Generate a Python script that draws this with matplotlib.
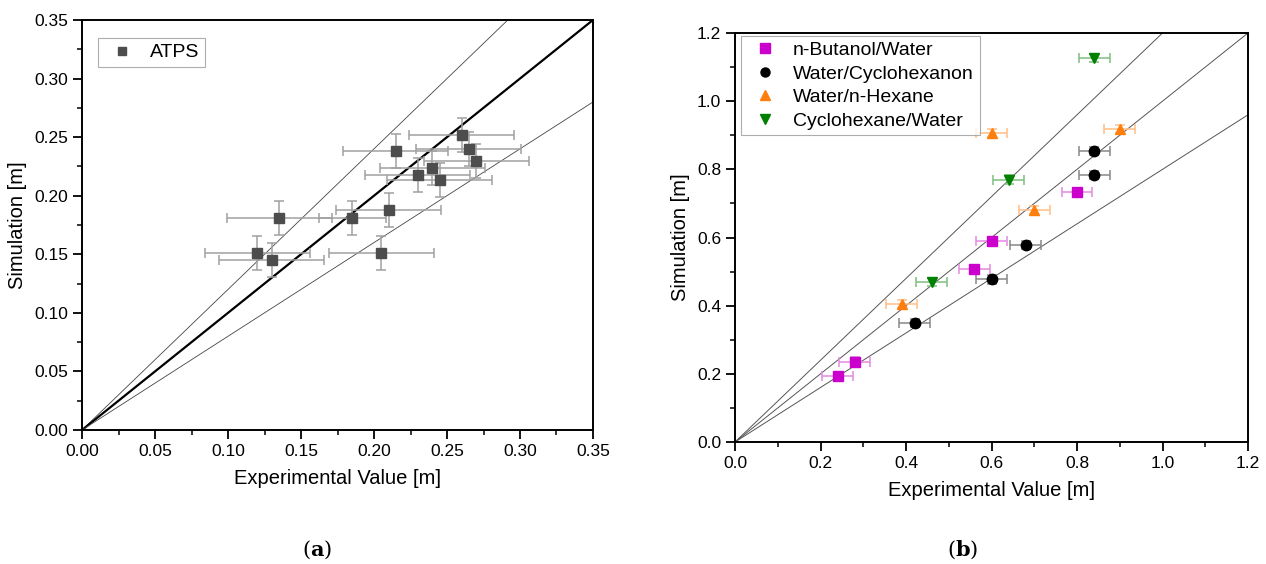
import numpy as np
import matplotlib as mpl
mpl.use('Agg')
import matplotlib.pyplot as plt
from matplotlib.lines import Line2D
from matplotlib.ticker import MultipleLocator, FormatStrFormatter

plt.rcParams['font.family'] = ['Liberation Sans', 'DejaVu Sans']
plt.rcParams['mathtext.fontset'] = 'dejavuserif'

# (a) ATPS: experimental vs simulated
atps_exp = [0.12, 0.13, 0.135, 0.185, 0.21, 0.205, 0.215, 0.23, 0.24, 0.245, 0.26, 0.265, 0.27]
atps_sim = [0.151, 0.145, 0.181, 0.181, 0.188, 0.151, 0.238, 0.218, 0.224, 0.213, 0.252, 0.240, 0.230]
atps_xerr = [0.036, 0.036, 0.036, 0.023, 0.036, 0.036, 0.036, 0.036, 0.036, 0.036, 0.036, 0.036, 0.036]
atps_yerr = [0.0145] * 13

# (b) two-phase systems
butanol_exp = [0.24, 0.28, 0.56, 0.60, 0.80]
butanol_sim = [0.194, 0.236, 0.508, 0.590, 0.733]
cyclohexanon_exp = [0.42, 0.60, 0.68, 0.84, 0.84]
cyclohexanon_sim = [0.349, 0.477, 0.579, 0.784, 0.854]
hexane_exp = [0.39, 0.60, 0.70, 0.90]
hexane_sim = [0.405, 0.906, 0.681, 0.919]
cyclohexane_exp = [0.46, 0.64, 0.84]
cyclohexane_sim = [0.470, 0.770, 1.126]
b_xerr = 0.036
b_yerr = 0.012

slopes = [1.2, 1.0, 0.8]

fig = plt.figure(figsize=(12.66, 5.64), dpi=100)
ax1 = fig.add_axes([0.0648, 0.2376, 0.4036, 0.727])
ax2 = fig.add_axes([0.5806, 0.2163, 0.4052, 0.7252])


def style_axes(ax, lim, major, minor, fmt):
    ax.set_xlim(0, lim)
    ax.set_ylim(0, lim)
    ax.xaxis.set_major_locator(MultipleLocator(major))
    ax.xaxis.set_minor_locator(MultipleLocator(minor))
    ax.yaxis.set_major_locator(MultipleLocator(major))
    ax.yaxis.set_minor_locator(MultipleLocator(minor))
    ax.xaxis.set_major_formatter(FormatStrFormatter(fmt))
    ax.yaxis.set_major_formatter(FormatStrFormatter(fmt))
    ax.tick_params(which='major', direction='out', length=6.5, width=1.3, labelsize=12.5)
    ax.tick_params(which='minor', direction='out', length=3.6, width=1.1)
    for s in ax.spines.values():
        s.set_linewidth(1.4)
    ax.set_xlabel('Experimental Value [m]', fontsize=14.5, labelpad=7)
    ax.set_ylabel('Simulation [m]', fontsize=14.5, labelpad=5)


def marker_handle(m, c, ms):
    return Line2D([], [], linestyle='none', marker=m, color=c, markersize=ms)


leg_kw = dict(loc='upper left', fontsize=14, frameon=True, fancybox=False,
              edgecolor='#999999', borderaxespad=0, borderpad=0.3,
              handlelength=1.87, handletextpad=0.5, labelspacing=0.3)

# --- panel a
xx = np.array([0, 0.35])
for k in slopes:
    if k == 1.0:
        ax1.plot(xx, k * xx, color='black', lw=1.6, zorder=2)
    else:
        ax1.plot(xx, k * xx, color='#444444', lw=0.6, zorder=2)
ax1.errorbar(atps_exp, atps_sim, xerr=atps_xerr, yerr=atps_yerr, fmt='s',
             color='#4d4d4d', ms=7, ecolor='#a0a0a0', elinewidth=1.1,
             capsize=3.5, capthick=1.1, zorder=3)
style_axes(ax1, 0.35, 0.05, 0.025, '%.2f')
leg = ax1.legend([marker_handle('s', '#4d4d4d', 6)], ['ATPS'],
                 bbox_to_anchor=(0.031, 0.956), **leg_kw)
leg.get_frame().set_linewidth(0.8)

# --- panel b
xx = np.array([0, 1.2])
for k in slopes:
    ax2.plot(xx, k * xx, color='#555555', lw=0.7, zorder=2)

series = [
    (butanol_exp, butanol_sim, 's', '#cc00cc', '#e28ae2', 'n-Butanol/Water'),
    (cyclohexanon_exp, cyclohexanon_sim, 'o', 'black', '#888888', 'Water/Cyclohexanon'),
    (hexane_exp, hexane_sim, '^', '#ff7f0e', '#ffbf85', 'Water/n-Hexane'),
    (cyclohexane_exp, cyclohexane_sim, 'v', '#008000', '#7fbf7f', 'Cyclohexane/Water'),
]
handles = []
labels = []
for xe, ys, m, c, ec, lab in series:
    ax2.errorbar(xe, ys, xerr=b_xerr, yerr=b_yerr, fmt=m, color=c, ms=7.5,
                 ecolor=ec, elinewidth=1.1, capsize=3.5, capthick=1.1, zorder=3)
    handles.append(marker_handle(m, c, 6.5))
    labels.append(lab)
style_axes(ax2, 1.2, 0.2, 0.1, '%.1f')
leg2 = ax2.legend(handles, labels, bbox_to_anchor=(0.0117, 0.993), **leg_kw)
leg2.get_frame().set_linewidth(0.8)

fig.text(0.2504, 0.026, r'($\mathbf{a}$)', ha='center', va='center', fontsize=15, family='serif')
fig.text(0.7607, 0.026, r'($\mathbf{b}$)', ha='center', va='center', fontsize=15, family='serif')

fig.savefig('out.png', dpi=100)
